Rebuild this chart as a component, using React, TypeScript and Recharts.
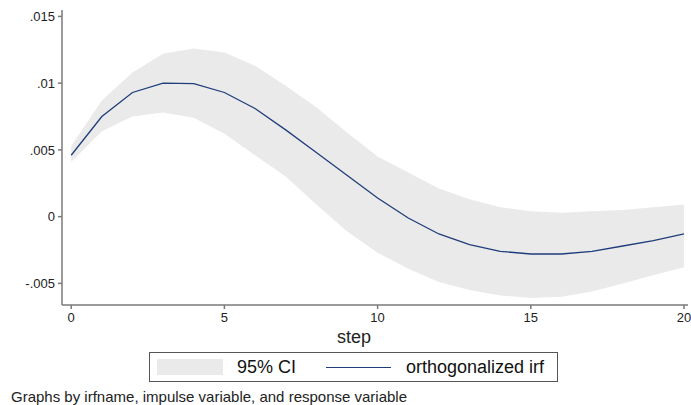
import React from "react";
import { ComposedChart, Area, Line, XAxis, YAxis } from "recharts";

const steps = [0, 1, 2, 3, 4, 5, 6, 7, 8, 9, 10, 11, 12, 13, 14, 15, 16, 17, 18, 19, 20];
const irf = [0.0046, 0.0075, 0.0093, 0.01, 0.00996, 0.0093, 0.0081, 0.0065, 0.0048, 0.0031, 0.0014, -0.0001, -0.0013, -0.0021, -0.0026, -0.0028, -0.0028, -0.0026, -0.0022, -0.0018, -0.0013];
const upper = [0.0053, 0.0087, 0.0108, 0.0122, 0.0126, 0.0123, 0.0113, 0.0098, 0.0082, 0.0063, 0.0045, 0.0033, 0.0021, 0.0013, 0.0007, 0.0004, 0.0003, 0.0004, 0.0005, 0.0007, 0.0009];
const lower = [0.0041, 0.0064, 0.0075, 0.0078, 0.0074, 0.0062, 0.0046, 0.003, 0.0009, -0.0011, -0.0027, -0.0039, -0.0049, -0.0055, -0.0059, -0.0061, -0.006, -0.0056, -0.005, -0.0044, -0.0038];
const xTicks = [0, 5, 10, 15, 20];
const yTicks = [-0.005, 0, 0.005, 0.01, 0.015];
const ciLabel = "95% CI";
const irfLabel = "orthogonalized irf";
const xTitle = "step";
const note = "Graphs by irfname, impulse variable, and response variable";

const data = steps.map((s, i) => ({ step: s, irf: irf[i], band: [lower[i], upper[i]] }));

const fmtY = (v: number) => (v === 0 ? "0" : String(v).replace("0.", "."));

const FONT = "'Liberation Sans', Arial, sans-serif";
const AXIS = "#7a7a7a";
const NAVY = "#1f3d7a";

export default function App() {
  return (
    <div style={{ position: "absolute", left: 0, top: 0, width: 691, height: 405, background: "#fff", fontFamily: FONT }}>
      <ComposedChart width={691} height={405} data={data} margin={{ top: 10, right: 3, bottom: 70, left: 0 }}>
        <XAxis
          dataKey="step"
          type="number"
          domain={[-0.3, 20.13]}
          ticks={xTicks}
          allowDataOverflow
          height={30}
          stroke={AXIS}
          strokeWidth={1.5}
          tickSize={4}
          tickMargin={4}
          tick={{ fill: "#222", fontSize: 13, fontFamily: FONT }}
        />
        <YAxis
          type="number"
          domain={[-0.00662, 0.01548]}
          ticks={yTicks}
          allowDataOverflow
          width={62}
          stroke={AXIS}
          strokeWidth={1.5}
          tickSize={4}
          tickMargin={3}
          tickFormatter={fmtY}
          tick={{ fill: "#222", fontSize: 13, fontFamily: FONT }}
        />
        <Area dataKey="band" type="linear" stroke="none" fill="#eaeaea" fillOpacity={1} isAnimationActive={false} />
        <Line dataKey="irf" type="linear" stroke={NAVY} strokeWidth={1.3} dot={false} isAnimationActive={false} />
      </ComposedChart>
      <div style={{ position: "absolute", left: 254, width: 200, top: 328, textAlign: "center", fontSize: 18, lineHeight: "18px", color: "#222" }}>
        {xTitle}
      </div>
      <div style={{ position: "absolute", left: 149, top: 352, width: 409, height: 30, border: "1px solid #555", boxSizing: "border-box", background: "#fff" }}>
        <div style={{ position: "absolute", left: 7, top: 6, width: 66, height: 16, background: "#eaeaea" }} />
        <div style={{ position: "absolute", left: 87, top: 5, fontSize: 18, color: "#111", lineHeight: "18px", whiteSpace: "nowrap" }}>{ciLabel}</div>
        <div style={{ position: "absolute", left: 176, top: 14, width: 65, height: 0, borderTop: `1.3px solid ${NAVY}` }} />
        <div style={{ position: "absolute", left: 256, top: 5, fontSize: 18, color: "#111", lineHeight: "18px", whiteSpace: "nowrap" }}>{irfLabel}</div>
      </div>
      <div style={{ position: "absolute", left: 11, top: 389, fontSize: 15, color: "#222", lineHeight: "15px", whiteSpace: "nowrap" }}>{note}</div>
    </div>
  );
}
